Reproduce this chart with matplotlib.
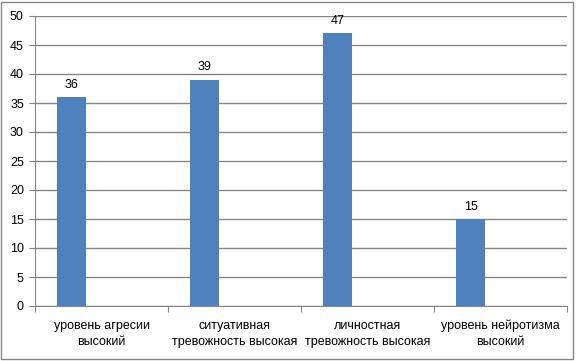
import matplotlib.pyplot as plt
from matplotlib.patches import Rectangle

categories = ['уровень агресии\nвысокий', 'ситуативная\nтревожность высокая',
              'личностная\nтревожность высокая', 'уровень нейротизма\nвысокий']
values = [36, 39, 47, 15]
yticks = [0, 5, 10, 15, 20, 25, 30, 35, 40, 45, 50]

plt.rcParams['font.family'] = ['Liberation Sans', 'DejaVu Sans']

W, H = 576, 361
fig = plt.figure(figsize=(W / 100, H / 100), dpi=100)
fig.patches.append(Rectangle((1 / W, 2 / H), 572 / W, 357 / H, transform=fig.transFigure,
                             fill=False, edgecolor='#868686', linewidth=1))

# plot area in pixels: x 35..567, y 16..306
ax = fig.add_axes([35 / W, 1 - 306 / H, 532 / W, 290 / H])

n = len(categories)
bar_w = 0.222
xs = [i + 0.165 + bar_w / 2 for i in range(n)]
ax.bar(xs, values, width=bar_w, color='#4F81BD', align='center', zorder=3)
for x, v in zip(xs, values):
    ax.text(x, v + 1.1, str(v), ha='center', va='bottom', fontsize=9, color='black')

ax.set_xlim(0, n)
ax.set_ylim(0, 50)
ax.set_yticks(yticks)
ax.set_yticklabels([str(t) for t in yticks], fontsize=9)
ax.yaxis.grid(True, color='#868686', linewidth=1, zorder=0)

ax.set_xticks(range(n + 1))
ax.set_xticklabels([])
ax.set_xticks([i + 0.5 for i in range(n)], minor=True)
ax.set_xticklabels(categories, minor=True, fontsize=9, linespacing=1.45)
ax.tick_params(axis='x', which='minor', length=0, pad=10)
ax.tick_params(axis='x', which='major', length=4, color='#868686', direction='out')
ax.tick_params(axis='y', length=4, color='#868686', direction='out', pad=4)

for side in ['top', 'right']:
    ax.spines[side].set_visible(False)
for side in ['left', 'bottom']:
    ax.spines[side].set_color('#868686')

fig.savefig('out.png', dpi=100)
